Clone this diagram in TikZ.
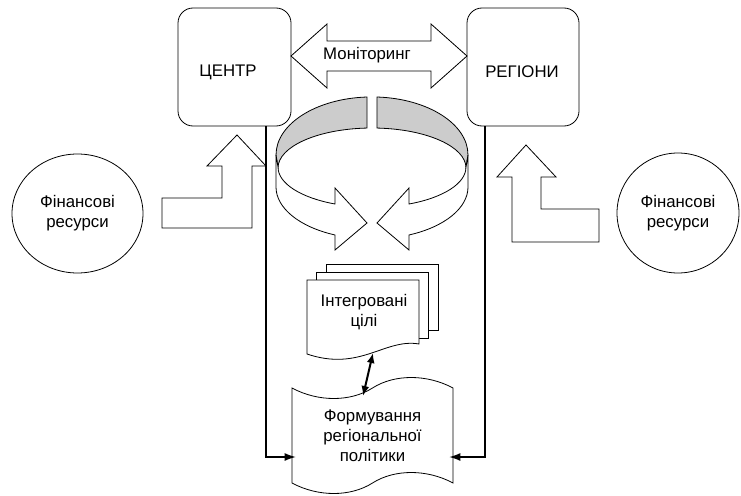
\documentclass[tikz,border=0pt]{standalone}
\usepackage{fontspec}
\setmainfont{Liberation Sans}
\usetikzlibrary{arrows.meta,shapes.geometric}

\begin{document}
\begin{tikzpicture}[
	x=1pt, y=-1pt, line width=0.8pt,
	every node/.style={ font=\fontsize{16.8}{20}\selectfont, align=center },
	box/.style={ draw, rounded corners=15pt, inner sep=0pt },
	res/.style={ ellipse, draw, inner sep=0pt },
	blockarrow/.style={ draw, fill=white, line join=miter },
	band/.style={ draw, fill=white },
	bandg/.style={ draw, fill=black!20!white },
	page/.style={ draw, fill=white },
	link/.style={ -{Latex[length=11pt,width=8pt]}, line width=1.1pt, shorten >=-4pt },
	linkb/.style={ {Latex[length=10pt,width=8pt]}-{Latex[length=10pt,width=8pt]}, line width=2pt }
]

\useasboundingbox (0,0) rectangle (741,495);

% centre and regions
\node[box, minimum width=113, minimum height=118] at (234.5,67) (centre) {};
\node at (228,72) (centretxt) {ЦЕНТР};
\node[box, minimum width=112, minimum height=118] at (523,67) (regions) {};
\node at (522,72) (regionstxt) {РЕГІОНИ};

% monitoring
\draw[blockarrow] (291,56) -- (327,24) -- (327,41) -- (431,41) -- (431,24) -- (467,56)
  -- (431,88) -- (431,71) -- (327,71) -- (327,88) -- cycle;
\node at (367,55) (monitor) {Моніторинг};

% ring
\foreach \s in {1,-1} {
	\begin{scope}[shift={(372,0)}, xscale=\s]
		\draw[bandg] (-5,97) arc[start angle=267, end angle=180, x radius=96, y radius=58]
		  -- (-94,168) arc[start angle=180, end angle=267, x radius=94, y radius=40] -- cycle;
		\draw[band] (-96,155) -- (-96,187) arc[start angle=180, end angle=112.7, x radius=96, y radius=52]
		  -- (-37,250) -- (-5,223) -- (-37,188) -- (-37,204)
		  arc[start angle=113.2, end angle=180, x radius=94, y radius=40] -- cycle;
	\end{scope}
}

% resources
\draw[blockarrow] (162,198) -- (222,198) -- (222,166) -- (207,166) -- (237,135) -- (266,166)
  -- (252,166) -- (252,228) -- (162,228) -- cycle;
\draw[blockarrow] (599,209) -- (541,209) -- (541,177) -- (556,177) -- (526,145) -- (497,177)
  -- (512,177) -- (512,242) -- (599,242) -- cycle;
\node[res, minimum width=131, minimum height=119] at (77.5,213.5) (finl) {Фінансові\\ресурси};
\node[res, minimum width=122, minimum height=120] at (678,213) (finr) {Фінансові\\ресурси};

% documents
\draw[page] (326,264) rectangle (438,330);
\draw[page] (316.5,272) rectangle (428.5,338);
\draw[page] (307,280) -- (419,280) -- (419,344) .. controls (385,338) and (360,372) .. (307,354) -- cycle;
\node[minimum width=112, minimum height=64, inner sep=0pt] at (364,312) (goals) {Інтегровані\\цілі};

\draw[page] (292,388) .. controls (318,402) and (350.5,402) .. (372.5,388)
  .. controls (394.5,374) and (427,374) .. (453,388) -- (453,483)
  .. controls (427,469) and (394.5,469) .. (372.5,483)
  .. controls (350.5,497) and (318,497) .. (292,483) -- cycle;
\node[minimum width=161, minimum height=95, inner sep=0pt] at (372.5,435.5) (form) {Формування\\регіональної\\політики};

% links
\coordinate (cl) at (266,457);
\coordinate (rl) at (485,457);
\coordinate (gw) at (373,353);
\coordinate (fw) at (363,396);
\draw[link] (centre.south -| cl) -- (cl) -- (cl -| form.west);
\draw[link] (regions.south -| rl) -- (rl) -- (rl -| form.east);
\draw[linkb] (gw) -- (fw);

\end{tikzpicture}
\end{document}
